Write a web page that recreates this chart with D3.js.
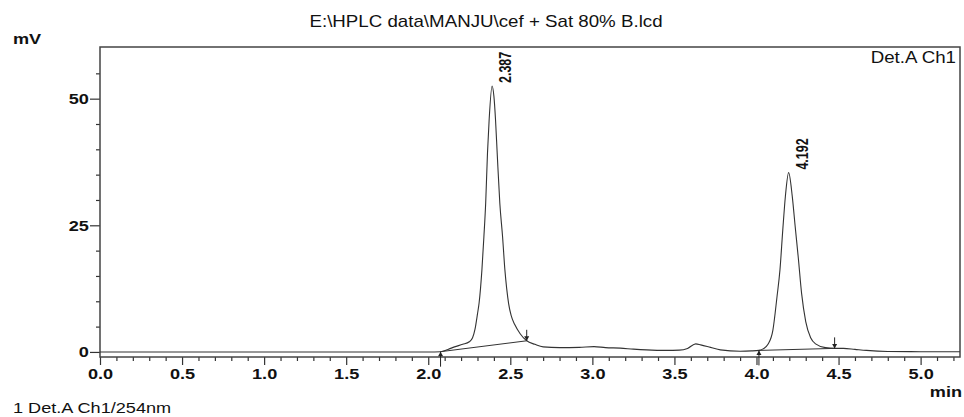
<!DOCTYPE html>
<html>
<head>
<meta charset="utf-8">
<script src="https://cdn.jsdelivr.net/npm/d3@7"></script>
<style>
body { margin: 0; background: #fff; }
svg { display: block; }
text { font-family: "Liberation Sans", Arial, sans-serif; fill: #111; }
</style>
</head>
<body>
<svg id="chart" width="964" height="417"></svg>
<script>
// chromatogram values (min, mV)
var chartTitle = "E:\\HPLC data\\MANJU\\cef + Sat 80% B.lcd";
var retTime = [0, 1.0, 2.0, 2.075, 2.12, 2.16, 2.21, 2.25, 2.27, 2.285, 2.30, 2.31, 2.327, 2.339, 2.35, 2.361, 2.371, 2.389,
    2.40, 2.41, 2.42, 2.436, 2.453, 2.467, 2.478, 2.49, 2.505, 2.527, 2.56, 2.60, 2.65, 2.70, 2.80, 2.92, 3.01, 3.08, 3.17, 3.25, 3.33,
    3.45, 3.53, 3.58, 3.63, 3.66, 3.72, 3.78, 3.90, 3.97, 4.015, 4.04, 4.07, 4.10, 4.125, 4.143, 4.16, 4.176, 4.196,
    4.218, 4.235, 4.255, 4.275, 4.30, 4.33, 4.36, 4.42, 4.476, 4.53, 4.60, 4.67, 4.80, 5.0, 5.24];
var signal = [0, 0, 0, 0.05, 0.5, 1.0, 1.5, 2.0, 2.8, 4.5, 7.5, 9.7, 16.2, 22.7, 29.4, 39.3, 45.8, 52.5,
    50.5, 45.8, 39.3, 29.4, 22.7, 16.2, 12.5, 9.5, 7.2, 5.4, 3.6, 2.2, 1.5, 1.0, 0.85, 0.9, 1.05, 0.85, 0.75, 0.55, 0.4,
    0.3, 0.35, 0.7, 1.6, 1.4, 0.9, 0.4, 0.15, 0.2, 0.3, 0.6, 1.5, 4.3, 10.9, 16.2, 24, 30.7, 35.4,
    30.7, 25, 18.5, 11.5, 6.0, 2.8, 1.6, 0.85, 0.7, 0.7, 0.5, 0.3, 0.1, 0.05, 0.05];

var peakLabels = ["2.387", "4.192"];
var peakApexT = [2.389, 4.196];
var peakApexV = [52.5, 35.4];
var peakStartT = [2.075, 4.015];
var peakStartV = [0.05, 0.3];
var peakEndT = [2.60, 4.476];
var peakEndV = [2.2, 0.7];

var xMajor = [0, 0.5, 1.0, 1.5, 2.0, 2.5, 3.0, 3.5, 4.0, 4.5, 5.0];
var xMajorLabels = ["0.0", "0.5", "1.0", "1.5", "2.0", "2.5", "3.0", "3.5", "4.0", "4.5", "5.0"];
var xMinor = [0.1, 0.2, 0.3, 0.4, 0.6, 0.7, 0.8, 0.9, 1.1, 1.2, 1.3, 1.4, 1.6, 1.7, 1.8, 1.9, 2.1, 2.2, 2.3, 2.4,
    2.6, 2.7, 2.8, 2.9, 3.1, 3.2, 3.3, 3.4, 3.6, 3.7, 3.8, 3.9, 4.1, 4.2, 4.3, 4.4, 4.6, 4.7, 4.8, 4.9, 5.1, 5.2];
var yMajor = [0, 25, 50];
var yMinor = [5, 10, 15, 20, 30, 35, 40, 45, 55];

var margin = {left: 100, top: 47, right: 4, bottom: 60};
var width = 964 - margin.left - margin.right;
var height = 417 - margin.top - margin.bottom;
var stretch = 1.17; // the picture is a little wider than tall

var svg = d3.select("#chart");
var g = svg.append("g")
    .attr("transform", "translate(" + margin.left + "," + margin.top + ")");

var x = d3.scaleLinear().domain([0, 5.24]).range([0, width]);
var y = d3.scaleLinear().domain([-1, 60.2]).range([height, 0]);

function stretchText(sel) {
    sel.attr("transform", "scale(" + stretch + ",1)");
}

// x axis
var xAxisMajor = g.append("g")
    .attr("transform", "translate(0," + height + ")")
    .call(d3.axisBottom(x).tickValues(xMajor).tickSize(8).tickPadding(3)
        .tickFormat(function (d, i) { return xMajorLabels[i]; }));
g.append("g")
    .attr("transform", "translate(0," + height + ")")
    .call(d3.axisBottom(x).tickValues(xMinor).tickSize(4).tickFormat(""));

// y axis
var yAxisMajor = g.append("g")
    .call(d3.axisLeft(y).tickValues(yMajor).tickSize(10).tickPadding(0)
        .tickFormat(d3.format("d")));
g.append("g")
    .call(d3.axisLeft(y).tickValues(yMinor).tickSize(4).tickFormat(""));

g.selectAll(".domain").remove();
g.selectAll(".tick line").attr("stroke", "#333").attr("stroke-width", 1.2);
xAxisMajor.selectAll("text")
    .style("font-size", "15.5px").style("font-weight", "bold").attr("fill", "#111")
    .call(stretchText);
yAxisMajor.selectAll("text")
    .attr("x", -9.5)
    .style("font-size", "15.5px").style("font-weight", "bold").attr("fill", "#111")
    .call(stretchText);

// frame
g.append("rect")
    .attr("x", 0).attr("y", 0)
    .attr("width", width).attr("height", height)
    .attr("fill", "none")
    .attr("stroke", "#444")
    .attr("stroke-width", 1.5);

// baselines under the peaks
for (var i = 0; i < peakLabels.length; i++) {
    g.append("line")
        .attr("x1", x(peakStartT[i])).attr("y1", y(peakStartV[i]))
        .attr("x2", x(peakEndT[i])).attr("y2", y(peakEndV[i]))
        .attr("stroke", "#333").attr("stroke-width", 1);
}

// signal trace
var points = retTime.map(function (t, i) { return [t, signal[i]]; });
var line = d3.line()
    .x(function (d) { return x(d[0]); })
    .y(function (d) { return y(d[1]); })
    .curve(d3.curveMonotoneX);
g.append("path")
    .datum(points)
    .attr("d", line)
    .attr("fill", "none")
    .attr("stroke", "#333")
    .attr("stroke-width", 1.1);

// start / end markers
for (var i = 0; i < peakLabels.length; i++) {
    var sx = x(peakStartT[i]), sy = y(peakStartV[i]);
    g.append("line")
        .attr("x1", sx).attr("y1", sy).attr("x2", sx).attr("y2", sy + 15)
        .attr("stroke", "#222").attr("stroke-width", 1);
    g.append("path")
        .attr("d", "M" + sx + "," + sy + "l-2.5,4.5l5,0z")
        .attr("fill", "#222");
    var ex = x(peakEndT[i]), ey = y(peakEndV[i]);
    g.append("line")
        .attr("x1", ex).attr("y1", ey - 11).attr("x2", ex).attr("y2", ey)
        .attr("stroke", "#222").attr("stroke-width", 1);
    g.append("path")
        .attr("d", "M" + ex + "," + ey + "l-2.5,-4.5l5,0z")
        .attr("fill", "#222");
}

// retention time labels
for (var i = 0; i < peakLabels.length; i++) {
    g.append("text")
        .attr("transform", "translate(" + (x(peakApexT[i]) + 19) + "," + (y(peakApexV[i]) - 3) + ") scale(1.25,1) rotate(-90)")
        .style("font-size", "12.5px")
        .style("font-weight", "bold")
        .text(peakLabels[i]);
}

// texts around the plot
function addText(str, tx, ty, size, weight, anchor) {
    svg.append("text")
        .attr("transform", "translate(" + tx + "," + ty + ") scale(" + stretch + ",1)")
        .attr("text-anchor", anchor)
        .style("font-size", size + "px")
        .style("font-weight", weight)
        .text(str);
}
addText(chartTitle, 486, 27, 16, "normal", "middle");
addText("mV", 13, 44, 15.5, "bold", "start");
addText("Det.A Ch1", 956, 63, 16, "normal", "end");
addText("min", 962, 397, 15.5, "bold", "end");
addText("1  Det.A Ch1/254nm", 13, 413, 15.5, "normal", "start");
</script>
</body>
</html>
